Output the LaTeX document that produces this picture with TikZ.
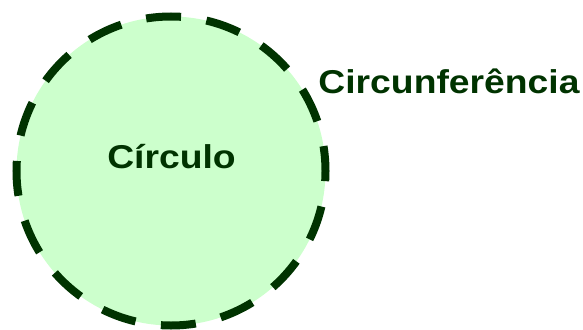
\documentclass[tikz,border=0pt]{standalone}
\usepackage{fontspec}
\setmainfont{Liberation Sans}
\definecolor{circfill}{HTML}{CCFFCC}
\definecolor{circline}{HTML}{003300}
\tikzset{
  rim/.style={circle, draw=circline, fill=circfill, line width=8pt, dash pattern=on 35pt off 25.67pt, dash phase=10pt, inner sep=0pt},
  word/.style={text=circline, font=\fontsize{33}{38}\selectfont\bfseries, inner sep=0pt, xscale=1.13}
}

\begin{document}
\begin{tikzpicture}[x=1pt, y=-1pt]
\useasboundingbox (0,0) rectangle (583,329);
\node[rim, minimum size=309pt] (disc) at (171,171) {};
\node[word, anchor=base] (inner) at (171.5,168) {Círculo};
\node[word, anchor=base] (rimlabel) at (449,93) {Circunferência};
\end{tikzpicture}
\end{document}
